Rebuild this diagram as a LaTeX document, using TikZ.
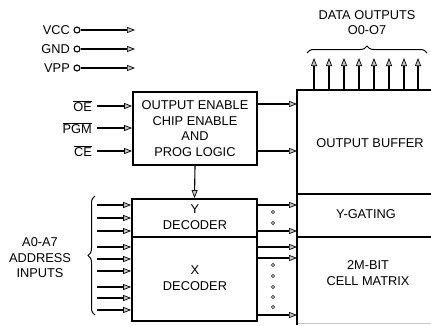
\documentclass[tikz,border=0pt]{standalone}
\usepackage{fontspec}
\setmainfont{Liberation Sans}
\usetikzlibrary{arrows.meta,decorations.pathreplacing}
\begin{document}
\begin{tikzpicture}[x=1pt,y=-1pt,
  lbl/.style={font=\fontsize{12.8}{15.5}\selectfont, inner sep=0pt, align=center},
  blk/.style={draw, line width=1.8pt},
  arr/.style={line width=1.1pt, -{Triangle[length=8pt,width=6pt,fill=gray!45,line width=0.7pt]}},
  pin/.style={draw, circle, inner sep=0pt, minimum size=6pt, line width=1.1pt},
  dotc/.style={circle, fill=gray!70, draw=gray!40!black, line width=0.4pt, inner sep=0pt, minimum size=3.6pt},
  brc/.style={decorate, decoration={brace, amplitude=7pt}, line width=1pt},
  sep/.style={line width=1.2pt}]
\useasboundingbox (0,0) rectangle (431,325);

% power pins
\foreach \n/\t/\y in {vcc/VCC/30, gnd/GND/49, vpp/VPP/68}{
  \node[lbl, anchor=east] (\n) at (70,\y) {\t};
  \node[pin] (\n c) at (77,\y) {};
  \coordinate (\n e) at (135,\y);
  \draw[arr] (\n c) -- (\n e);
}

% logic block
\node[blk, lbl, minimum width=124pt, minimum height=73pt] (logic) at (195,128.5)
  {OUTPUT ENABLE\\CHIP ENABLE\\AND\\PROG LOGIC};

\node[lbl, anchor=east] (oe) at (92,106) {$\overline{\mbox{OE}}$};
\node[lbl, anchor=east] (pgm) at (92,128) {$\overline{\mbox{PGM}}$};
\node[lbl, anchor=east] (ce) at (92,151) {$\overline{\mbox{CE}}$};
\foreach \n/\y in {oe/106, pgm/128, ce/151}{
  \coordinate (\n s) at (97,\y);
  \draw[arr] (\n s) -- (\n s -| logic.west);
}

% decoder block
\node[blk, minimum width=125pt, minimum height=122pt] (dec) at (194.5,260) {};
\draw[sep] (dec.west |- 0,237) -- (dec.east |- 0,237);
\node[lbl] (ydec) at (195,217) {Y\\DECODER};
\node[lbl] (xdec) at (195,278) {X\\DECODER};

\draw[arr] (logic.south) -- (dec.north);

% right block
\coordinate (rbw) at (297,90);
\coordinate (rbb) at (297,325);
\coordinate (rbe) at (431,90);
\draw[blk] (rbb) -- (rbw) -- (rbe);
\draw[sep] (297,194) -- (431,194);
\draw[sep] (297,237) -- (431,237);
\draw[gray!45, line width=0.8pt] (298,323) -- (431,323);
\node[lbl] (obuf) at (370,143) {OUTPUT BUFFER};
\node[lbl] (ygat) at (366,214) {Y-GATING};
\node[lbl] (cell) at (368,273) {2M-BIT\\CELL MATRIX};

% logic -> right block
\foreach \y in {104,151}{
  \draw[arr] (logic.east |- 0,\y) -- (rbw |- 0,\y);
}

% decoder -> right block
\foreach \y in {205,231,247,258,315}{
  \draw[arr] (dec.east |- 0,\y) -- (rbw |- 0,\y);
}
\foreach \y [count=\i] in {212,223,265,276,287,297,307}{
  \node[dotc] (d\i) at (273,\y) {};
}

% address inputs
\foreach \y [count=\i] in {205,218,231,247,259,271,287,298,310}{
  \coordinate (a\i) at (97,\y);
  \draw[arr] (a\i) -- (a\i -| dec.west);
}
\coordinate (bb) at (95,315);
\coordinate (bt) at (95,196);
\draw[brc] (bb) -- (bt);
\node[lbl] (addr) at (40,258) {A0-A7\\ADDRESS\\INPUTS};

% data outputs
\foreach \x [count=\i] in {314,329,344,359,374,389,404,418}{
  \coordinate (o\i) at (\x,90);
  \coordinate (t\i) at (\x,58);
  \draw[arr] (o\i) -- (t\i);
}
\coordinate (dl) at (307,53);
\coordinate (dr) at (427,53);
\draw[brc] (dl) -- (dr);
\node[lbl] (dout) at (367,22.5) {DATA OUTPUTS\\O0-O7};
\end{tikzpicture}
\end{document}
